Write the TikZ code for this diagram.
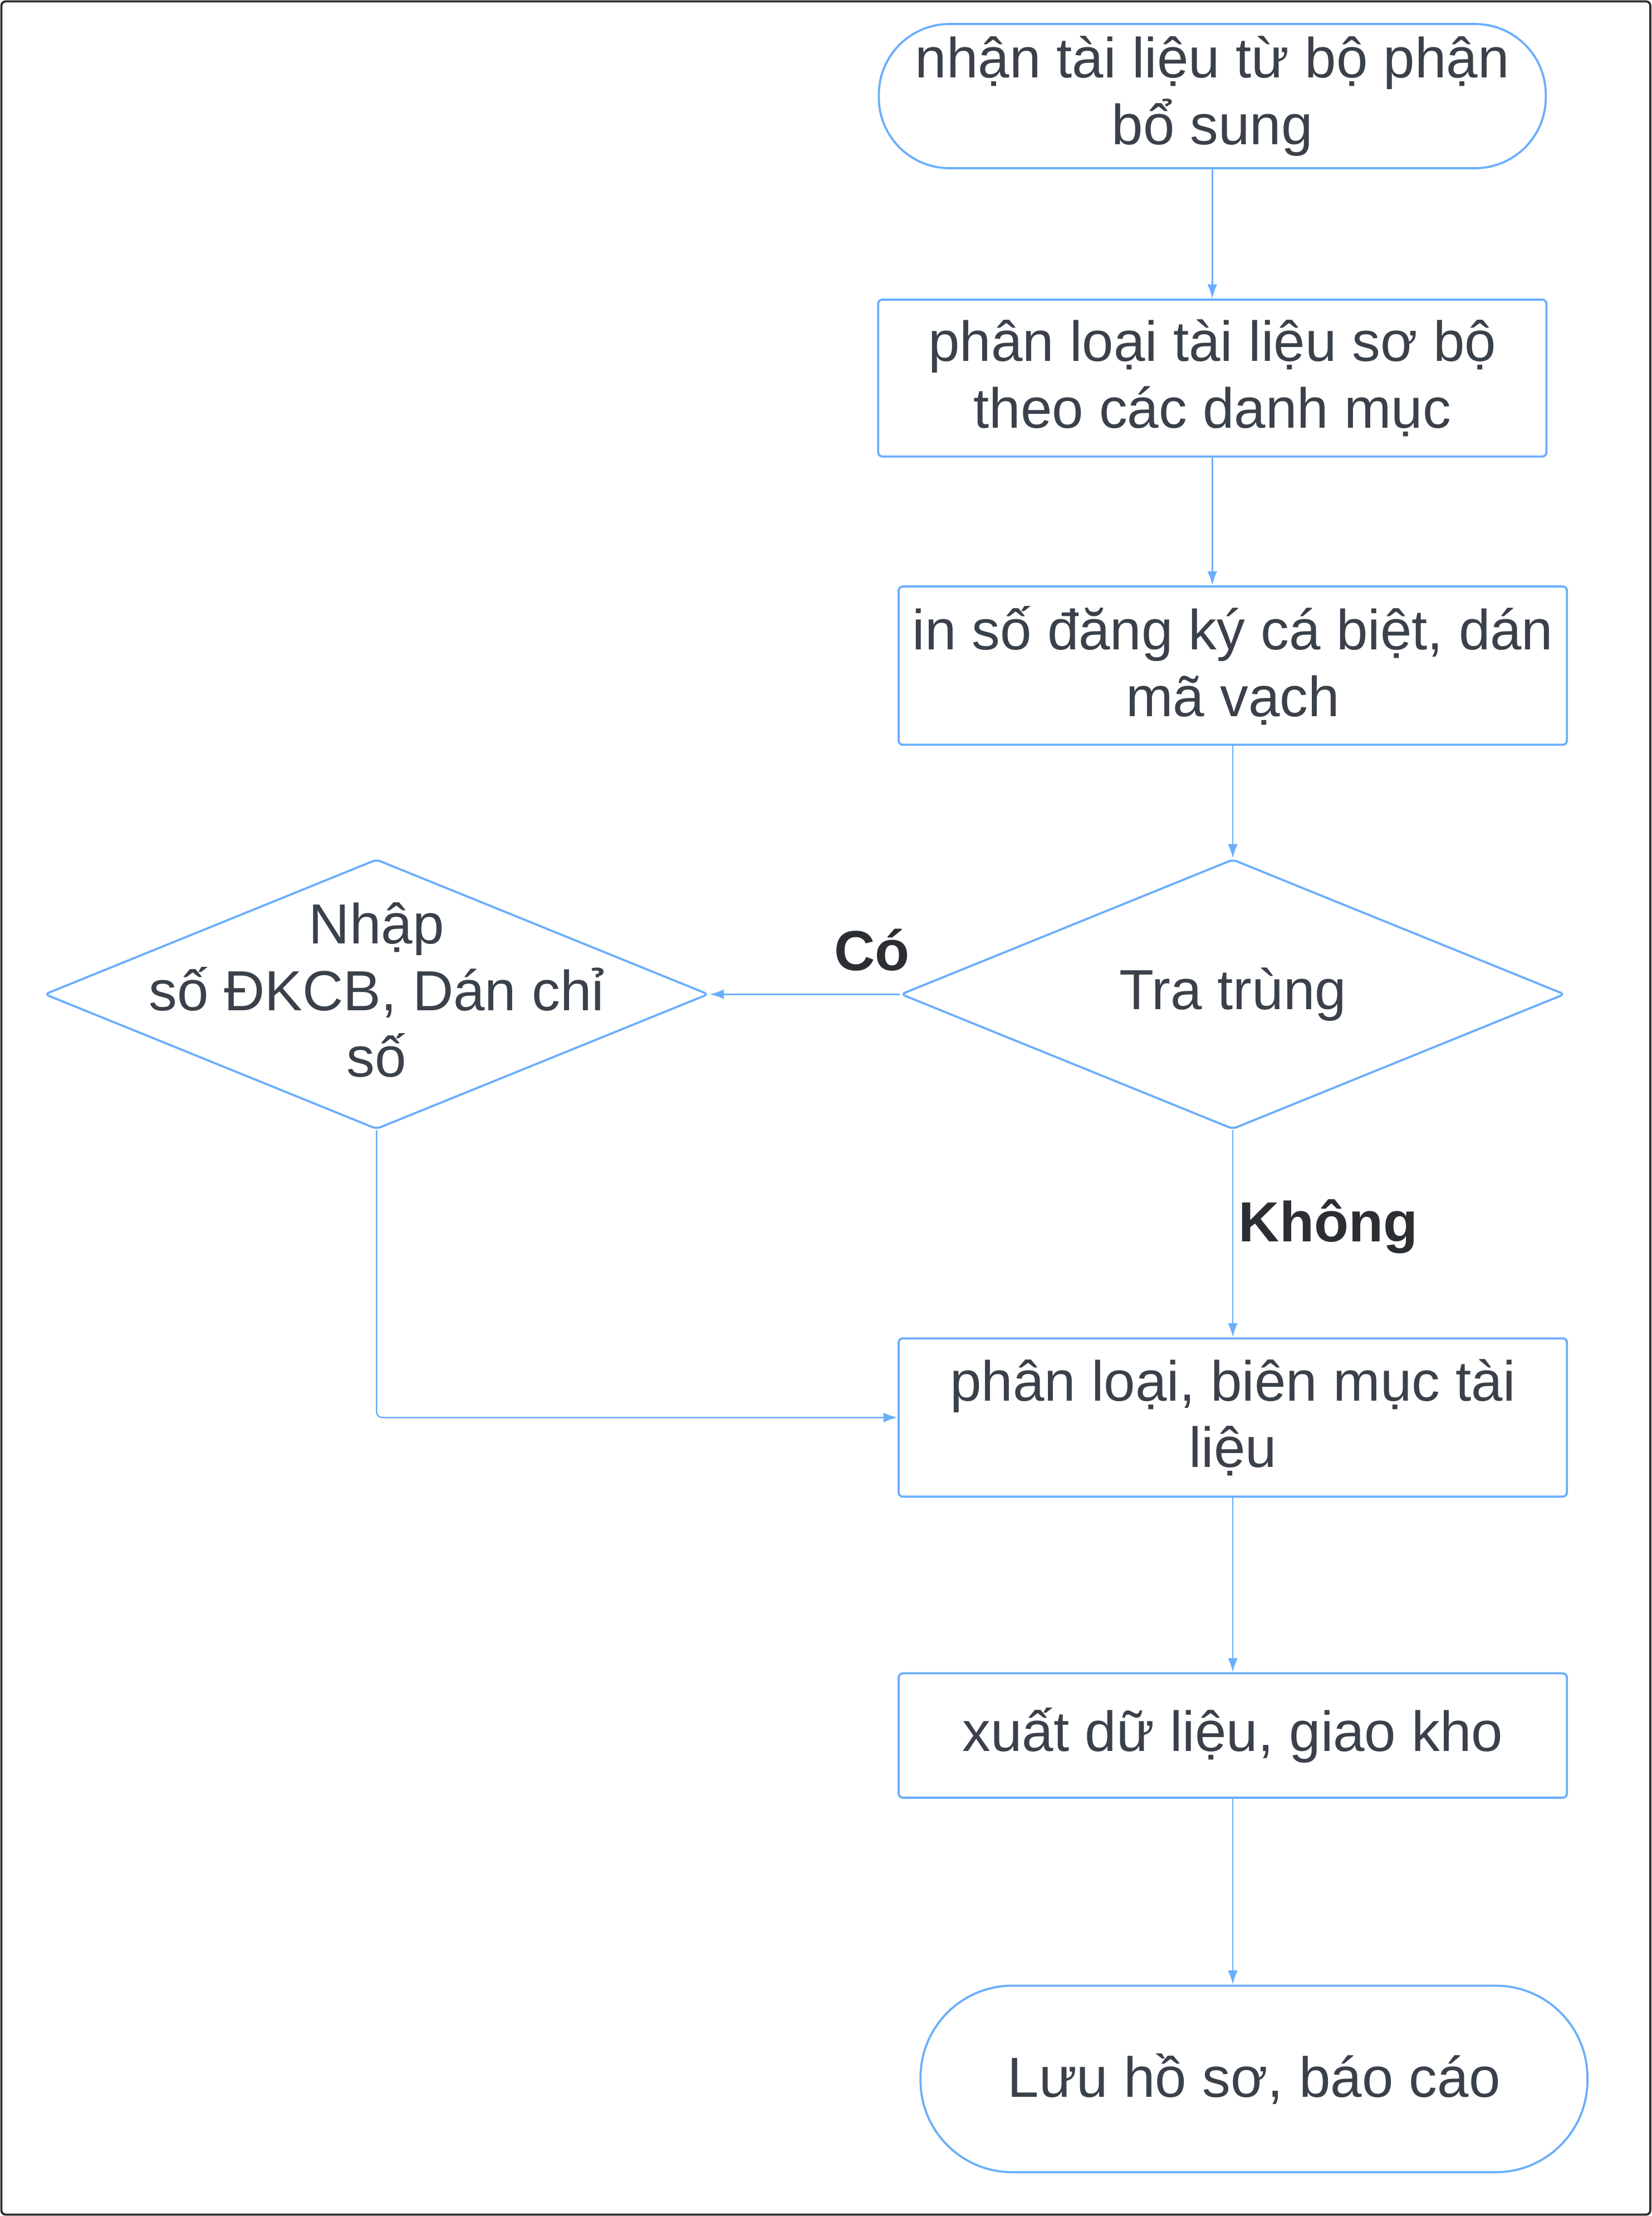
\documentclass[tikz,border=0pt]{standalone}
\usepackage{fontspec}
\setmainfont{Liberation Sans}
\usetikzlibrary{shapes.geometric,arrows.meta}

\definecolor{lineblue}{HTML}{6AAEFC}
\definecolor{textgray}{HTML}{3A414A}
\definecolor{framegray}{HTML}{2B2F33}

\begin{document}
\begin{tikzpicture}
[
	x=1pt,y=-1pt,
	every node/.style={font=\fontsize{40}{47}\selectfont,text=textgray},
	term/.style={draw=lineblue,line width=1.5pt,align=center,inner sep=0pt,minimum width=472pt},
	procbox/.style={draw=lineblue,line width=1.5pt,rounded corners=3pt,align=center,inner sep=0pt,minimum width=473pt},
	decision/.style={diamond,draw=lineblue,line width=1.5pt,rounded corners=3pt,inner sep=0pt,minimum width=470pt,minimum height=191pt},
	flowarrow/.style={draw=lineblue,line width=1pt,-{Latex[length=10pt,width=7pt]}},
	answer/.style={font=\fontsize{40}{47}\selectfont\bfseries,text=framegray}
]

	\useasboundingbox (0,0) rectangle (1169,1568);

	% frame
	\draw[framegray,line width=1.5pt,rounded corners=3pt] (1,1) rectangle (1168,1567);

	% steps
	\node[term,minimum height=102pt,rounded corners=50pt] at (858,68) (nhan) {nhận tài liệu từ bộ phận\\bổ sung};
	\node[procbox,minimum height=111pt] at (858,267.5) (soBo) {phân loại tài liệu sơ bộ\\theo các danh mục};
	\node[procbox,minimum height=112pt] at (872.5,471) (dangKy) {in số đăng ký cá biệt, dán\\mã vạch};
	\node[decision,label={center:Tra trùng}] at (872.5,703.5) (traTrung) {};
	\node[decision,label={[align=center,yshift=3pt]center:Nhập\\số ĐKCB, Dán chỉ\\số}] at (266.5,703.5) (nhapSo) {};
	\node[procbox,minimum height=112pt] at (872.5,1003) (bienMuc) {phân loại, biên mục tài\\liệu};
	\node[procbox,minimum height=88pt] at (872.5,1228) (xuat) {xuất dữ liệu, giao kho};
	\node[term,minimum height=132pt,rounded corners=65pt] at (887.5,1471) (luu) {Lưu hồ sơ, báo cáo};

	% answers
	\node[answer] at (617,672) (co) {Có};
	\node[answer] at (940,868) (khong) {Không};

	% arrows
	\draw[flowarrow] (nhan) -- (soBo);
	\draw[flowarrow] (soBo.south) -- (soBo.south |- dangKy.north);
	\draw[flowarrow] (dangKy) -- (traTrung);
	\draw[flowarrow] (traTrung.west) -- (nhapSo.east);
	\draw[flowarrow] (traTrung.south) -- (bienMuc.north);
	\draw[flowarrow,rounded corners=4pt] (nhapSo.south) |- (bienMuc.west);
	\draw[flowarrow] (bienMuc) -- (xuat);
	\draw[flowarrow] (xuat.south) -- (xuat.south |- luu.north);

\end{tikzpicture}
\end{document}
